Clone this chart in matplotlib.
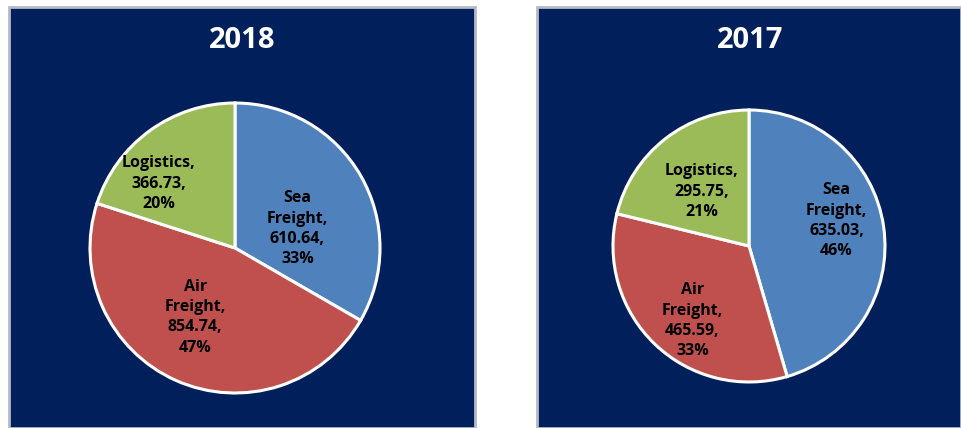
import matplotlib
matplotlib.use("Agg")
import matplotlib.pyplot as plt
from matplotlib.patches import Rectangle
import numpy as np

plt.rcParams['font.family'] = ['Open Sans', 'DejaVu Sans']

categories = ["Sea\nFreight", "Air\nFreight", "Logistics"]
values_2018 = [610.64, 854.74, 366.73]
values_2017 = [635.03, 465.59, 295.75]
pct_2018 = [33, 47, 20]
pct_2017 = [46, 33, 21]
titles = ["2018", "2017"]

colors = ["#4F81BD", "#C0504D", "#9BBB59"]
navy = "#001F5B"
border = "#B4BAC8"

W, H = 962, 428
fig = plt.figure(figsize=(W / 100, H / 100), dpi=100)
fig.patch.set_facecolor("white")

# panels: (left, right, top) in px
panels = [(9, 475, 7), (537, 961, 7)]
for (l, r, t) in panels:
    fig.patches.append(Rectangle((l / W, 0), (r - l) / W, (H - t) / H,
                                 transform=fig.transFigure, facecolor=navy,
                                 edgecolor=border, linewidth=2, zorder=-5))

# pie placement: center x, center y (px from top), radius px
pies = [(235, 248, 145), (749, 246, 136)]
# label placement (angle deg, distance fraction) per slice
label_pos = [
    [(17, 0.45), (-120, 0.55), (140, 0.69)],
    [(16, 0.67), (-127, 0.69), (131, 0.53)],
]
title_pos = [(242, 41), (750, 41)]

for i, (vals, pcts) in enumerate([(values_2018, pct_2018), (values_2017, pct_2017)]):
    cx, cy, rad = pies[i]
    ax = fig.add_axes([(cx - rad) / W, (H - cy - rad) / H, 2 * rad / W, 2 * rad / H])
    ax.set_zorder(5)
    ax.patch.set_alpha(0)
    ax.axis("off")
    wedges, _ = ax.pie(vals, colors=colors, startangle=90, counterclock=False,
                       radius=1.0, wedgeprops=dict(edgecolor="white", linewidth=2.2))
    ax.set_xlim(-1, 1)
    ax.set_ylim(-1, 1)
    for w in wedges:
        w.set_clip_on(False)
    for j, v in enumerate(vals):
        ang, d = label_pos[i][j]
        x = d * np.cos(np.radians(ang))
        y = d * np.sin(np.radians(ang))
        txt = f"{categories[j]},\n{v:.2f},\n{pcts[j]}%"
        ax.text(x, y, txt, ha="center", va="center", fontsize=11.5,
                fontweight="bold", color="black", linespacing=1.36)
    tx, ty = title_pos[i]
    fig.text(tx / W, 1 - ty / H, titles[i], ha="center", va="center",
             fontsize=21, fontweight="bold", color="white", zorder=6)

fig.savefig("out.png", dpi=100, facecolor="white")
